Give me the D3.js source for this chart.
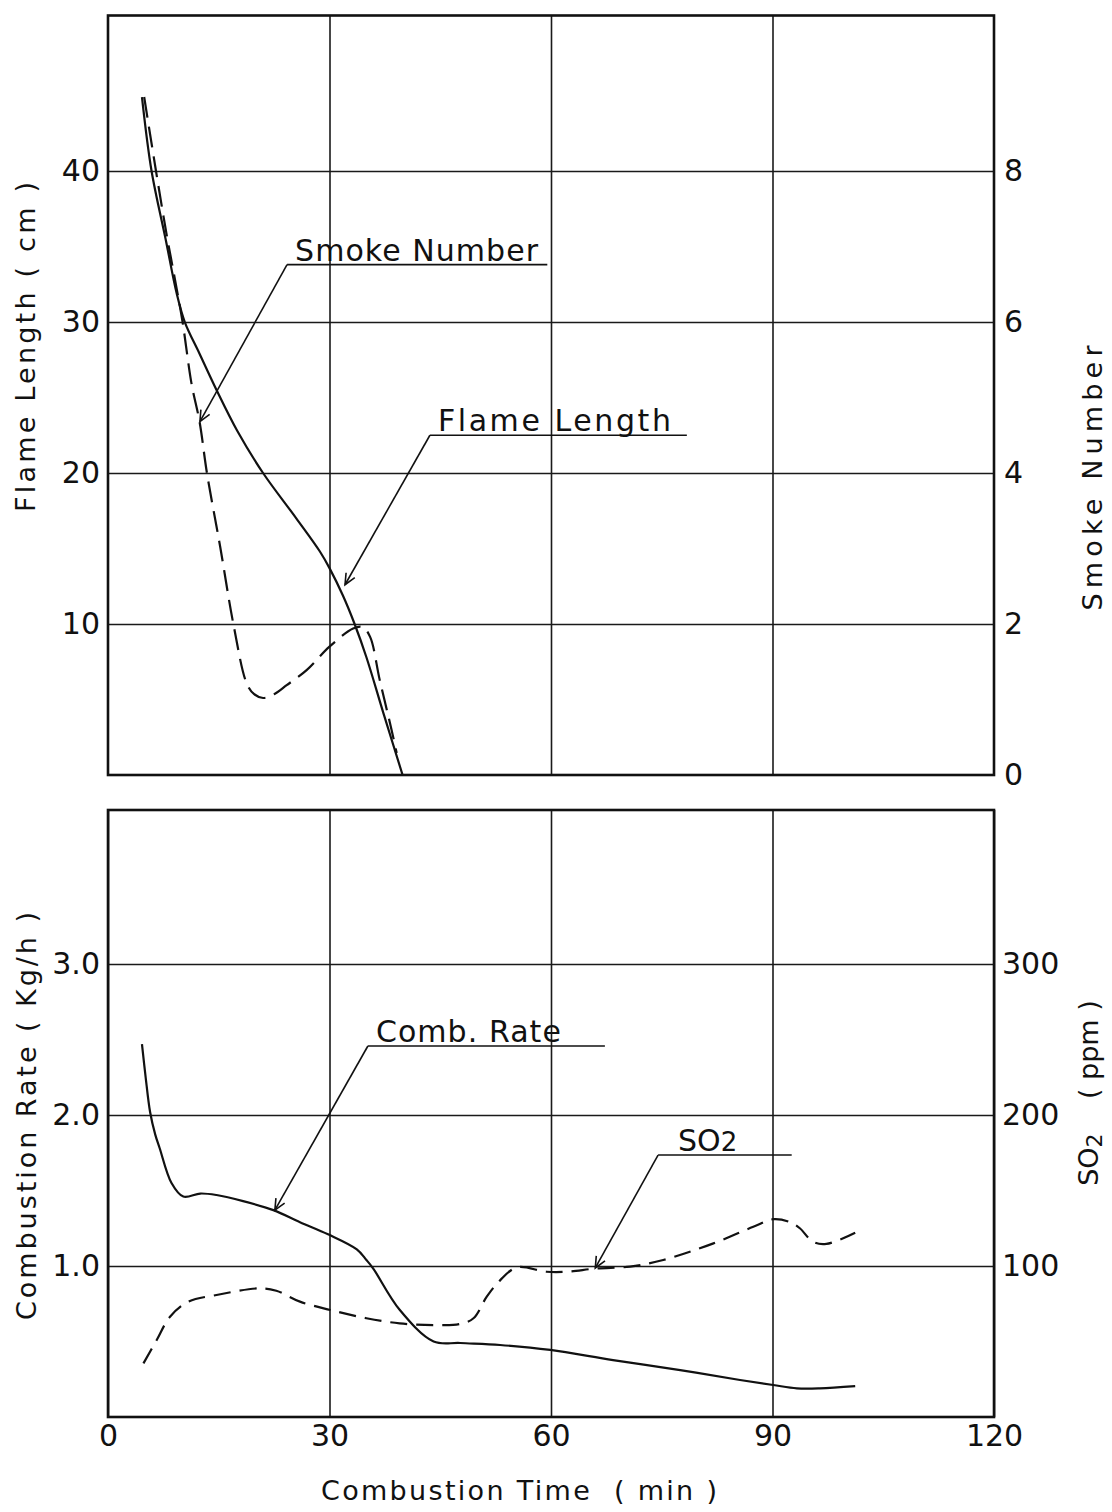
<!DOCTYPE html>
<html><head><meta charset="utf-8">
<script src="https://cdn.jsdelivr.net/npm/d3@7"></script>
<style>
body{margin:0;background:#fff}
text{font-family:"DejaVu Sans",sans-serif;fill:#111;white-space:pre}
</style>
</head><body>
<svg id="c" width="1112" height="1512"></svg>
<script>
// ---- tick values ----
const timeTicks=[0,30,60,90,120];
const flameTicks=[10,20,30,40];
const smokeTicks=[0,2,4,6,8];
const rateTicks=[1,2,3];
const so2Ticks=[100,200,300];

// ---- top panel series ----
const flameTime=[4.6,5.9,7.8,9.3,10.4,12.4,14.7,17.5,21.0,25.5,28.7,30.0,31.8,33.4,35.0,37.3,39.9];
const flameLength=[44.9,40.0,35.5,31.9,30.0,27.9,25.5,22.8,20.0,17.0,14.8,13.7,11.9,10.0,7.8,4.1,0];
const smokeTime=[4.9,6.5,7.9,9.0,10.1,11.3,12.4,13.4,15.2,17.0,18.8,19.8,21.0,22.5,24.2,26.9,30.0,33.2,34.5,35.5,36.8,38.4,39.1];
const smokeNumber=[8.98,8.0,7.18,6.6,6.0,5.19,4.68,4.0,3.02,1.99,1.21,1.07,1.02,1.07,1.19,1.39,1.70,1.94,1.96,1.83,1.26,0.6,0.29];

// ---- bottom panel series ----
const rateTime=[4.6,5.1,5.7,6.4,7.0,8.6,10.2,12.5,14.7,18.3,22.4,26.0,29.8,33.7,35.0,35.9,39.5,44.1,47.7,53.1,59.9,68.4,77.5,85.6,90.1,93.3,96.4,101.2];
const combRate=[2.47,2.25,2.02,1.87,1.78,1.55,1.46,1.48,1.47,1.43,1.37,1.29,1.21,1.11,1.04,0.985,0.71,0.50,0.49,0.477,0.444,0.377,0.311,0.245,0.212,0.19,0.19,0.205];
const so2Time=[4.8,6.6,8.4,10.9,14.7,20.6,22.8,26.0,30.1,35.0,39.5,44.1,47.7,49.5,51.3,53.1,55.4,59.4,62.1,66.2,70.7,75.2,82.0,87.4,90.1,92.4,93.7,95.5,97.3,101.2];
const so2Ppm=[35.5,51,66.4,76.4,80.8,85.2,83.6,76.4,70.9,65.4,62.0,60.9,61.6,65.4,79.7,90.5,99.1,96.2,96.2,98.4,99.6,104,115,126,131,129,125,116,114.6,122];

// ---- annotations (data units): label, underline start/end time, underline value, arrow tip ----
const annotations=[
  {panel:"top",label:"Smoke Number",t0:24.25,t1:59.5,v:33.8,tipT:12.45,tipV:23.4,len:243},
  {panel:"top",label:"Flame Length",t0:43.6,t1:78.4,v:22.5,tipT:32.1,tipV:12.6,len:233},
  {panel:"bottom",label:"Comb. Rate",t0:35.2,t1:67.3,v:2.457,tipT:22.6,tipV:1.37,len:185},
  {panel:"bottomR",label:"SO2",t0:74.5,t1:92.6,v:173.5,tipT:66.0,tipV:98.7,len:65}
];

const svg=d3.select("#c");
const x=d3.scaleLinear().domain([0,120]).range([108,994]);
const yFlame=d3.scaleLinear().domain([0,50.3]).range([775,15.5]);
const ySmoke=d3.scaleLinear().domain([0,10.06]).range([775,15.5]);
const yRate=d3.scaleLinear().domain([0,4.02]).range([1417,810]);
const ySO2=d3.scaleLinear().domain([0,402]).range([1417,810]);
const PW=x(120)-x(0);

function styleAxis(g,size){
  g.select(".domain").remove();
  g.selectAll(".tick line").attr("stroke","#1a1a1a").attr("stroke-width",1.6);
  g.selectAll(".tick text").attr("font-size",size).attr("fill","#111").attr("font-family","DejaVu Sans, sans-serif");
}

// ---- top panel ----
svg.append("g").attr("transform",`translate(${x(0)},0)`)
  .call(d3.axisLeft(yFlame).tickValues(flameTicks).tickSize(-PW).tickPadding(8))
  .call(g=>styleAxis(g,30));
svg.append("g").attr("transform",`translate(${x(120)},0)`)
  .call(d3.axisRight(ySmoke).tickValues(smokeTicks).tickSize(0).tickPadding(10))
  .call(g=>styleAxis(g,30));
svg.append("g").attr("transform",`translate(0,${yFlame(0)})`)
  .call(d3.axisBottom(x).tickValues([30,60,90]).tickSize(-(yFlame(0)-yFlame(50.3))).tickFormat(""))
  .call(g=>styleAxis(g,30));
svg.append("rect").attr("x",x(0)).attr("y",yFlame(50.3)).attr("width",PW).attr("height",yFlame(0)-yFlame(50.3))
  .attr("fill","none").attr("stroke","#111").attr("stroke-width",2.6);

// ---- bottom panel ----
svg.append("g").attr("transform",`translate(${x(0)},0)`)
  .call(d3.axisLeft(yRate).tickValues(rateTicks).tickSize(-PW).tickPadding(8).tickFormat(d3.format(".1f")))
  .call(g=>styleAxis(g,30));
svg.append("g").attr("transform",`translate(${x(120)},0)`)
  .call(d3.axisRight(ySO2).tickValues(so2Ticks).tickSize(0).tickPadding(8))
  .call(g=>styleAxis(g,30));
svg.append("g").attr("transform",`translate(0,${yRate(0)})`)
  .call(d3.axisBottom(x).tickValues(timeTicks).tickSize(-(yRate(0)-yRate(4.02))).tickPadding(8))
  .call(g=>styleAxis(g,30));
svg.append("rect").attr("x",x(0)).attr("y",yRate(4.02)).attr("width",PW).attr("height",yRate(0)-yRate(4.02))
  .attr("fill","none").attr("stroke","#111").attr("stroke-width",2.6);

// ---- curves ----
function draw(ts,vs,yS,dash){
  const line=d3.line().x(d=>x(d[0])).y(d=>yS(d[1])).curve(d3.curveCatmullRom.alpha(0.5));
  svg.append("path").datum(d3.zip(ts,vs)).attr("d",line)
    .attr("fill","none").attr("stroke","#111").attr("stroke-width",2.2)
    .attr("stroke-dasharray",dash||null).attr("stroke-linejoin","round");
}
draw(flameTime,flameLength,yFlame);
draw(smokeTime,smokeNumber,ySmoke,"21,9");
draw(rateTime,combRate,yRate);
draw(so2Time,so2Ppm,ySO2,"17,9");

// ---- arrow annotations ----
svg.append("defs").append("marker").attr("id","arr").attr("markerUnits","userSpaceOnUse")
  .attr("viewBox","-12 -7 14 14").attr("refX",0).attr("refY",0)
  .attr("markerWidth",14).attr("markerHeight",14).attr("orient","auto")
  .append("path").attr("d","M-11,-5 L0,0 L-11,5").attr("fill","none").attr("stroke","#111").attr("stroke-width",1.6);

annotations.forEach(a=>{
  const yS=a.panel==="top"?yFlame:(a.panel==="bottom"?yRate:ySO2);
  const ux0=x(a.t0), ux1=x(a.t1), uy=yS(a.v);
  svg.append("line").attr("x1",ux0).attr("x2",ux1).attr("y1",uy).attr("y2",uy)
    .attr("stroke","#111").attr("stroke-width",1.6);
  svg.append("line").attr("x1",ux0).attr("y1",uy).attr("x2",x(a.tipT)).attr("y2",yS(a.tipV))
    .attr("stroke","#111").attr("stroke-width",1.6).attr("marker-end","url(#arr)");
  const t=svg.append("text").attr("x",ux0+(a.label==="SO2"?20:8)).attr("y",uy-4).attr("font-size",30);
  if(a.label==="SO2"){
    t.append("tspan").text("SO");
    t.append("tspan").attr("font-size",26).text("2");
  } else {
    t.text(a.label).attr("textLength",a.len).attr("lengthAdjust","spacing");
  }
});

// ---- axis titles ----
function vtitle(cx,cy,str,len,size){
  return svg.append("text").attr("transform",`translate(${cx},${cy}) rotate(-90)`)
    .attr("text-anchor","middle").attr("font-size",size).attr("textLength",len).attr("lengthAdjust","spacing").text(str);
}
vtitle(35,347,"Flame Length ( cm )",330,27);
vtitle(36,1116,"Combustion Rate ( Kg/h )",408,27);
vtitle(1102,478,"Smoke Number",265,27);
const so2t=svg.append("text").attr("transform","translate(1098,1093) rotate(-90)")
  .attr("text-anchor","middle").attr("font-size",27);
so2t.append("tspan").text("SO");
so2t.append("tspan").attr("font-size",22).attr("dy",4).text("2");
so2t.append("tspan").attr("dy",-4).text("    ( ppm )");

svg.append("text").attr("x",519).attr("y",1500).attr("text-anchor","middle").attr("font-size",27)
  .attr("textLength",396).attr("lengthAdjust","spacing").text("Combustion Time  ( min )");
</script>
</body></html>
